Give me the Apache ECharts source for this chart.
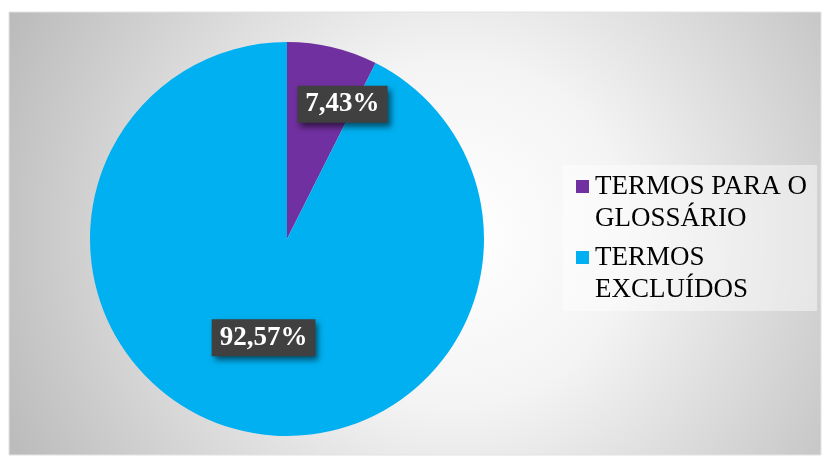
<!DOCTYPE html>
<html>
<head>
<meta charset="utf-8">
<script src="https://cdn.jsdelivr.net/npm/echarts@6/dist/echarts.min.js"></script>
<style>
html,body{margin:0;padding:0;background:#fff;}
#c{width:822px;height:457px;}
</style>
</head>
<body>
<div id="c"></div>
<script>
const categories = ['TERMOS PARA O GLOSSÁRIO', 'TERMOS EXCLUÍDOS'];
const legendLines = [['TERMOS PARA O', 'GLOSSÁRIO'], ['TERMOS', 'EXCLUÍDOS']];
const values = [7.43, 92.57];
const colors = ['#7030A0', '#00B0F0'];
const labelOffsets = [[32, -36], [0, 0]];

const chart = echarts.init(document.getElementById('c'), null, {renderer: 'canvas'});
const serif = '"Liberation Serif", "Times New Roman", serif';

const rich = {
  gap: {width: 6},
  sp: {width: 19},
  t: {fontSize: 27, fontFamily: serif, color: '#000', lineHeight: 32}
};
colors.forEach((c, i) => {
  rich['sq' + i] = {width: 13, height: 13, backgroundColor: c};
});

const option = {
  animation: false,
  graphic: [{
    type: 'rect',
    silent: true,
    z: -10,
    shape: {x: 9, y: 12, width: 812, height: 443},
    style: {
      fill: {
        type: 'radial', x: 0.55, y: 0.5, r: 1.1,
        colorStops: [{offset: 0, color: '#ffffff'}, {offset: 0.35, color: '#f4f4f4'}, {offset: 1, color: '#bcbcbc'}]
      },
      stroke: '#e2e2e2', lineWidth: 1
    }
  }],
  legend: {
    orient: 'vertical',
    left: 563,
    top: 165,
    icon: 'none',
    itemWidth: 0,
    itemHeight: 13,
    itemGap: 12,
    padding: [8, 10, 8, 8],
    backgroundColor: 'rgba(255,255,255,0.45)',
    data: categories,
    selectedMode: false,
    formatter: function (name) {
      const i = categories.indexOf(name);
      const l = legendLines[i];
      return '{sq' + i + '|}{gap|}{t|' + l[0] + '}\n{sp|}{t|' + l[1] + '}';
    },
    textStyle: {rich: rich}
  },
  series: [{
    type: 'pie',
    center: [287, 239],
    radius: 197,
    startAngle: 90,
    clockwise: true,
    avoidLabelOverlap: false,
    data: categories.map((n, i) => ({
      name: n,
      value: values[i],
      itemStyle: {color: colors[i]},
      label: {offset: labelOffsets[i]}
    })),
    label: {
      show: true,
      position: 'inside',
      formatter: p => p.value.toFixed(2).replace('.', ',') + '%',
      color: '#fff',
      fontFamily: serif,
      fontWeight: 'bold',
      fontSize: 27,
      lineHeight: 27,
      backgroundColor: '#404040',
      padding: [6, 8, 4, 8],
      shadowColor: 'rgba(0,0,0,0.55)',
      shadowBlur: 6,
      shadowOffsetX: 3,
      shadowOffsetY: 4
    },
    labelLine: {show: false},
    emphasis: {disabled: true}
  }]
};
chart.setOption(option);
</script>
</body>
</html>
